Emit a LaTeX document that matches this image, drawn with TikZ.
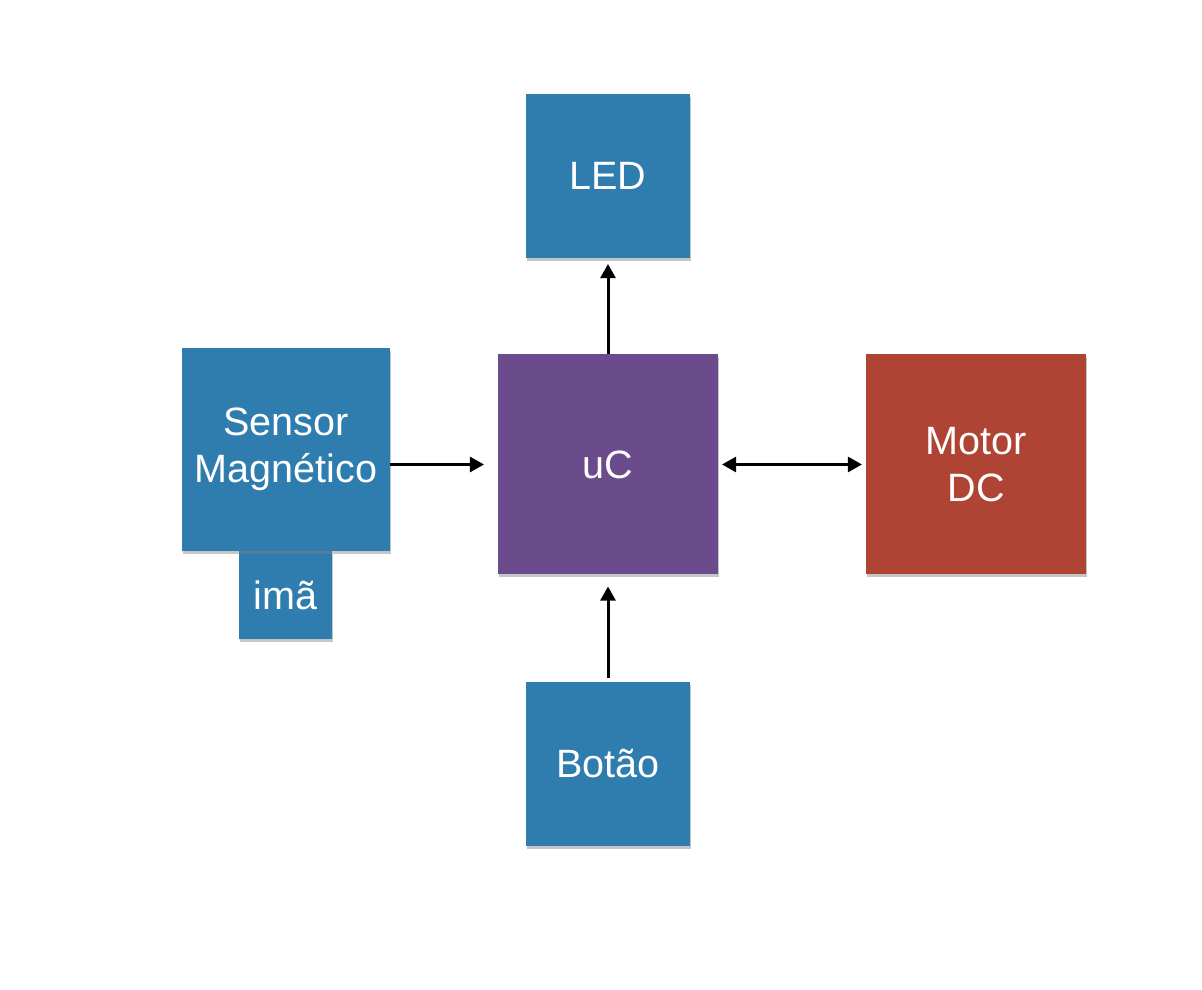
\documentclass[tikz,border=0pt]{standalone}
\usepackage{fontspec}
\setmainfont{Liberation Sans}
\usetikzlibrary{arrows.meta,shadows}
\definecolor{bloco}{HTML}{2F7DAF}
\definecolor{micro}{HTML}{6A4B8C}
\definecolor{motor}{HTML}{B04434}
\begin{document}
\begin{tikzpicture}[font=\fontsize{22.5}{27}\selectfont, every node/.style={text=white, align=center, inner sep=0pt, outer sep=0pt, drop shadow={shadow xshift=0.6pt, shadow yshift=-1.5pt, opacity=0.45}}, seta/.style={line width=1.7pt, -{Triangle[length=8pt, width=8.5pt]}}]
        \useasboundingbox (0,0) rectangle (24.04,19.8);
        \node[fill=bloco, minimum width=1.86cm, minimum height=1.76cm] (ima) at (5.71, 7.90) {imã};
        \node[fill=bloco, minimum width=4.16cm, minimum height=4.06cm] (sensor) at (5.72, 10.81) {Sensor\\Magnético};
        \node[fill=bloco, minimum size=3.28cm] (led) at (12.16, 16.28) {LED};
        \node[fill=micro, minimum size=4.4cm] (uc) at (12.16, 10.51) {uC};
        \node[fill=motor, minimum size=4.4cm] (motor) at (19.52, 10.51) {Motor\\DC};
        \node[fill=bloco, minimum size=3.28cm] (botao) at (12.16, 4.52) {Botão};
        \draw[seta, shorten >=0.12cm] (uc.north) -- (led.south);
        \draw[seta, shorten >=0.28cm] (sensor.east |- uc.west) -- (uc.west);
        \draw[seta, {Triangle[length=8pt, width=8.5pt]}-{Triangle[length=8pt, width=8.5pt]}, shorten <=0.08cm, shorten >=0.08cm] (uc.east) -- (motor.west);
        \draw[seta, shorten <=0.08cm, shorten >=0.24cm] (botao.north) -- (uc.south);
    \end{tikzpicture}
\end{document}
